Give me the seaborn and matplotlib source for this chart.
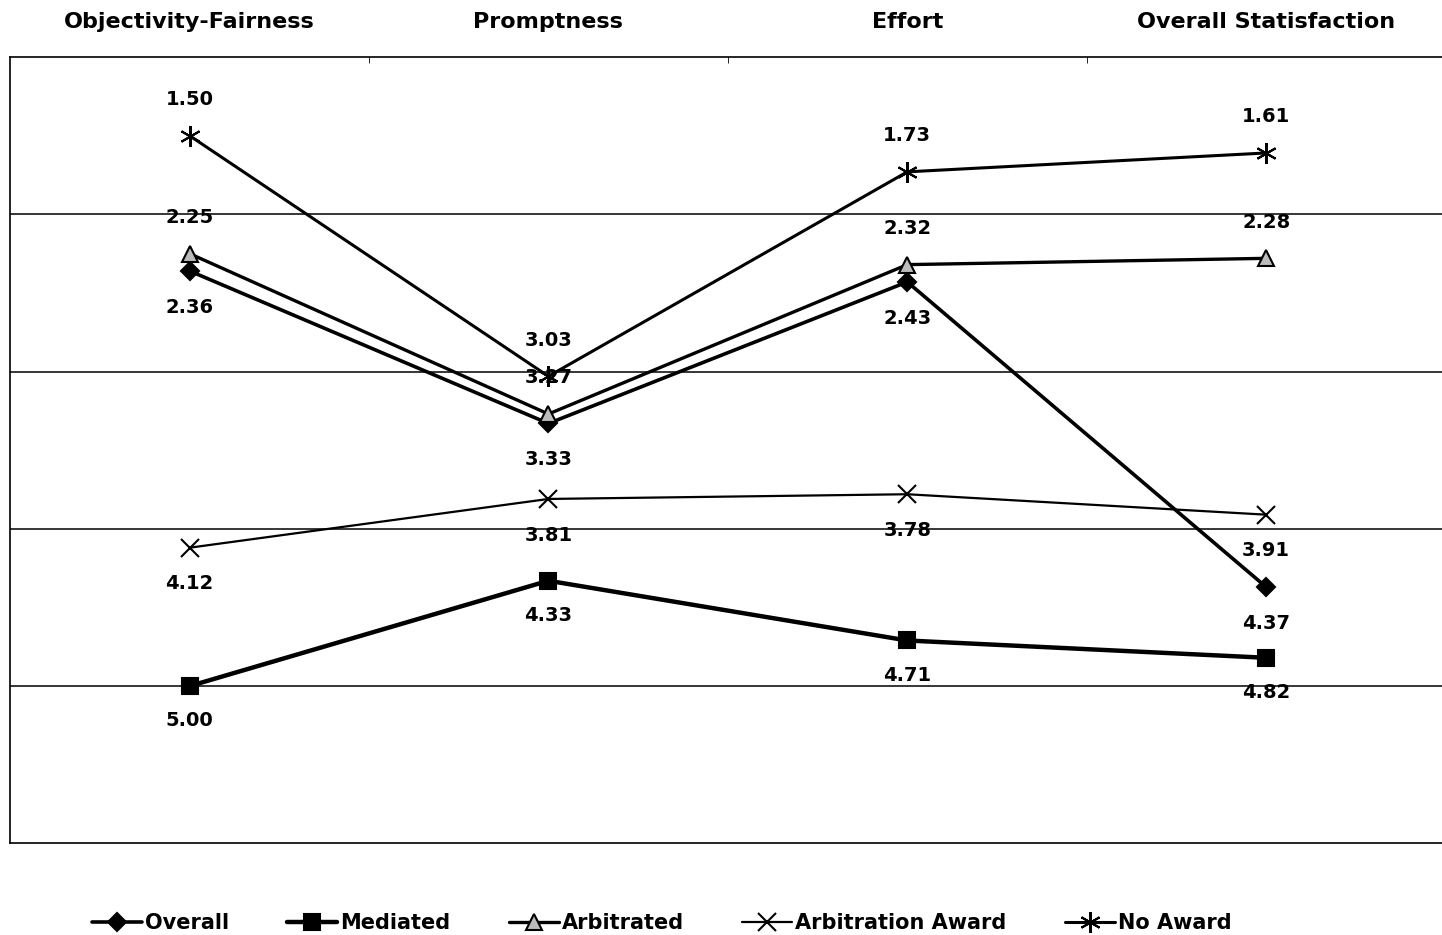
import pandas as pd
import numpy as np
import matplotlib.pyplot as plt
import seaborn as sns

categories = ['Objectivity-Fairness', 'Promptness', 'Effort', 'Overall Statisfaction']
overall = [2.36, 3.33, 2.43, 4.37]
mediated = [5.00, 4.33, 4.71, 4.82]
arbitrated = [2.25, 3.27, 2.32, 2.28]
arb_award = [4.12, 3.81, 3.78, 3.91]
no_award = [1.50, 3.03, 1.73, 1.61]

series_names = ['Overall', 'Mediated', 'Arbitrated', 'Arbitration Award', 'No Award']
series_vals = [overall, mediated, arbitrated, arb_award, no_award]

rows = []
for name, vals in zip(series_names, series_vals):
    for i, v in enumerate(vals):
        rows.append({'series': name, 'x': i, 'score': v})
df = pd.DataFrame(rows)

sns.set_style('white')
plt.rcParams['font.family'] = ['DejaVu Sans']
plt.rcParams['text.color'] = 'black'
plt.rcParams['xtick.color'] = 'black'
plt.rcParams['xtick.labelcolor'] = 'black'

# marker, size, facecolor, line width, label offset (points; +ve = below)
styles = {
    'Overall': ('D', 9, 'black', 2.6, 26),
    'Mediated': ('s', 11, 'black', 3.2, 25),
    'Arbitrated': ('^', 11, '#bbbbbb', 2.4, -26),
    'Arbitration Award': ('x', 13, 'black', 1.6, 26),
    'No Award': ((6, 2, 0), 15, 'black', 2.2, -26),
}

fig = plt.figure(figsize=(14.42, 9.35), dpi=100)
ax = fig.add_axes([0.007, 0.098, 0.993, 0.841])

for name in series_names:
    mk, ms, fc, lw, off = styles[name]
    sub = df[df['series'] == name]
    sns.lineplot(data=sub, x='x', y='score', ax=ax, color='black', lw=lw,
                 marker=mk, markersize=ms, markerfacecolor=fc,
                 markeredgecolor='black', markeredgewidth=1.5, label=name)
    for x, v in zip(sub['x'], sub['score']):
        ax.annotate(f'{v:.2f}', (x, v), xytext=(0, -off), textcoords='offset points',
                    ha='center', va='center', fontsize=14, fontweight='bold', color='black')

ax.set_ylim(6, 1)
ax.set_xlim(-0.5, 3.49)
for g in [2, 3, 4, 5]:
    ax.axhline(g, color='black', lw=1.1, zorder=0)

ax.set_yticks([])
ax.xaxis.tick_top()
ax.set_xticks(range(len(categories)))
ax.set_xticklabels(categories, fontsize=16, fontweight='bold', color='black')
ax.tick_params(axis='x', which='major', length=0, pad=18)
ax.set_xticks([0.5, 1.5, 2.5], minor=True)
ax.tick_params(axis='x', which='minor', top=True, length=4, direction='in', color='black')
ax.set_xlabel('')
ax.set_ylabel('')

for s in ['left', 'top', 'bottom']:
    ax.spines[s].set_color('black')
    ax.spines[s].set_linewidth(1.2)
ax.spines['right'].set_visible(False)

leg = ax.legend(loc='upper center', bbox_to_anchor=(0.455, -0.065), ncol=5, frameon=False,
                prop={'size': 15, 'weight': 'bold'}, handlelength=2.4, handletextpad=0.15,
                columnspacing=2.8)
for t in leg.get_texts():
    t.set_color('black')

fig.savefig('out.png', dpi=100)
